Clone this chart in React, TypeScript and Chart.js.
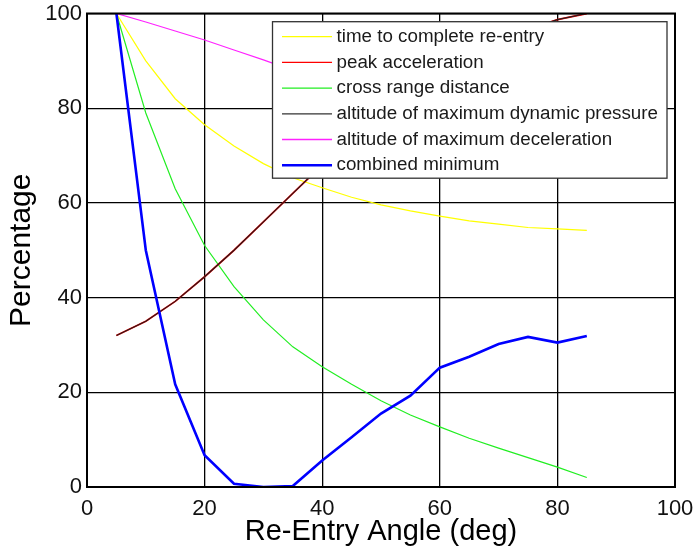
import React, { useEffect, useRef } from "react";
import { Chart, registerables } from "chart.js";

Chart.register(...registerables);

const angles = [5, 10, 15, 20, 25, 30, 35, 40, 45, 50, 55, 60, 65, 70, 75, 80, 85];
const timeToComplete = [100, 90, 82, 76.5, 72, 68.3, 65.3, 63.2, 61.2, 59.6, 58.3, 57.2, 56.2, 55.5, 54.8, 54.5, 54.2];
const peakAcceleration = [32, 35, 39.2, 44.4, 50, 56, 62, 68, 73.5, 78.6, 83.2, 87.3, 90.9, 94, 96.6, 98.7, 100];
const crossRange = [100, 79, 63, 51, 42.3, 35.3, 29.6, 25.4, 21.7, 18.2, 15.2, 12.7, 10.3, 8.2, 6.2, 4.2, 2];
const altMaxDynPressure = [32, 35, 39.2, 44.4, 50, 56, 62, 68, 73.5, 78.6, 83.2, 87.3, 90.9, 94, 96.6, 98.7, 100];
const altMaxDecel = [100, 98.2, 96.3, 94.4, 92.3, 90.2, 88, 86, 84, 82, 80.5, 79, 77.5, 76, 74.5, 73, 72];
const combinedMinimum = [100, 50, 21.7, 6.7, 0.7, 0, 0.2, 5.6, 10.5, 15.5, 19.3, 25.2, 27.5, 30.2, 31.7, 30.5, 31.9];
const xTicks = [0, 20, 40, 60, 80, 100];
const yTicks = [0, 20, 40, 60, 80, 100];

const seriesNames = [
  "time to complete re-entry",
  "peak acceleration",
  "cross range distance",
  "altitude of maximum dynamic pressure",
  "altitude of maximum deceleration",
  "combined minimum",
];
const seriesColors = ["#ffff00", "#ff0000", "#22ee22", "#2a1a1a", "#ff22ff", "#0000ff"];
const seriesWidths = [1.2, 1.8, 1.2, 1.2, 1.2, 2.6];
const seriesData = [timeToComplete, peakAcceleration, crossRange, altMaxDynPressure, altMaxDecel, combinedMinimum];
const seriesOrder = [5, 3, 4, 2, 6, 0];

const FONT = "'Liberation Sans', Arial, sans-serif";

const framePlugin = {
  id: "frameAndLegend",
  afterDatasetsDraw(chart: any) {
    const { ctx, chartArea } = chart;
    ctx.save();
    ctx.strokeStyle = "#000";
    ctx.lineWidth = 2;
    ctx.strokeRect(chartArea.left, chartArea.top, chartArea.right - chartArea.left, chartArea.bottom - chartArea.top);

    ctx.font = `18.8px ${FONT}`;
    let maxW = 0;
    seriesNames.forEach((n) => {
      maxW = Math.max(maxW, ctx.measureText(n).width);
    });
    const w = 64 + maxW + 9;
    const h = 156.5;
    const x0 = chartArea.right - 8 - w;
    const y0 = chartArea.top + 8.2;
    ctx.fillStyle = "#fff";
    ctx.fillRect(x0, y0, w, h);
    ctx.strokeStyle = "#333";
    ctx.lineWidth = 1.3;
    ctx.strokeRect(x0, y0, w, h);
    seriesNames.forEach((n, i) => {
      const yy = y0 + 15 + i * 25.7;
      ctx.strokeStyle = i === 3 ? "#333" : seriesColors[i];
      ctx.lineWidth = i === 5 ? 2.6 : 1.3;
      ctx.beginPath();
      ctx.moveTo(x0 + 9.5, yy);
      ctx.lineTo(x0 + 59.5, yy);
      ctx.stroke();
      ctx.fillStyle = "#1a1a1a";
      ctx.textBaseline = "middle";
      ctx.textAlign = "left";
      ctx.fillText(n, x0 + 64, yy);
    });
    ctx.restore();
  },
};

export default function App() {
  const canvasRef = useRef<HTMLCanvasElement | null>(null);

  useEffect(() => {
    if (!canvasRef.current) return;
    const chart = new Chart(canvasRef.current, {
      type: "line",
      data: {
        datasets: seriesNames.map((name, i) => ({
          label: name,
          data: angles.map((a, j) => ({ x: a, y: seriesData[i][j] })),
          borderColor: seriesColors[i],
          backgroundColor: seriesColors[i],
          borderWidth: seriesWidths[i],
          pointRadius: 0,
          tension: 0,
          fill: false,
          order: seriesOrder[i],
        })),
      },
      options: {
        animation: false,
        responsive: true,
        maintainAspectRatio: false,
        layout: { padding: { top: 13.5, right: 21, left: 0, bottom: 0 } },
        plugins: { legend: { display: false }, tooltip: { enabled: false } },
        scales: {
          x: {
            type: "linear",
            min: 0,
            max: 100,
            afterBuildTicks: (s: any) => {
              s.ticks = xTicks.map((v) => ({ value: v }));
            },
            afterFit: (s: any) => {
              s.height = 62;
              s.paddingLeft = 0;
              s.paddingRight = 0;
            },
            ticks: { color: "#111", font: { family: FONT, size: 22 }, padding: 9, maxRotation: 0 },
            grid: { color: "#000", lineWidth: 1.3, drawTicks: false },
            border: { display: true, color: "#000", width: 2 },
            title: {
              display: true,
              text: "Re-Entry Angle (deg)",
              color: "#000",
              font: { family: FONT, size: 29 },
              padding: { top: 0, bottom: 0 },
            },
          },
          y: {
            type: "linear",
            min: 0,
            max: 100,
            afterBuildTicks: (s: any) => {
              s.ticks = yTicks.map((v) => ({ value: v }));
            },
            afterFit: (s: any) => {
              s.width = 87;
              s.paddingTop = 0;
              s.paddingBottom = 0;
            },
            ticks: { color: "#111", font: { family: FONT, size: 22 }, padding: 5 },
            grid: { color: "#000", lineWidth: 1.3, drawTicks: false },
            border: { display: true, color: "#000", width: 2 },
            title: {
              display: true,
              text: "Percentage",
              color: "#000",
              font: { family: FONT, size: 30 },
              padding: { top: 4, bottom: 0 },
            },
          },
        },
      },
      plugins: [framePlugin],
    });
    return () => chart.destroy();
  }, []);

  return (
    <div style={{ position: "fixed", left: 0, top: 0, width: 696, height: 549, background: "#fff" }}>
      <canvas ref={canvasRef} />
    </div>
  );
}
